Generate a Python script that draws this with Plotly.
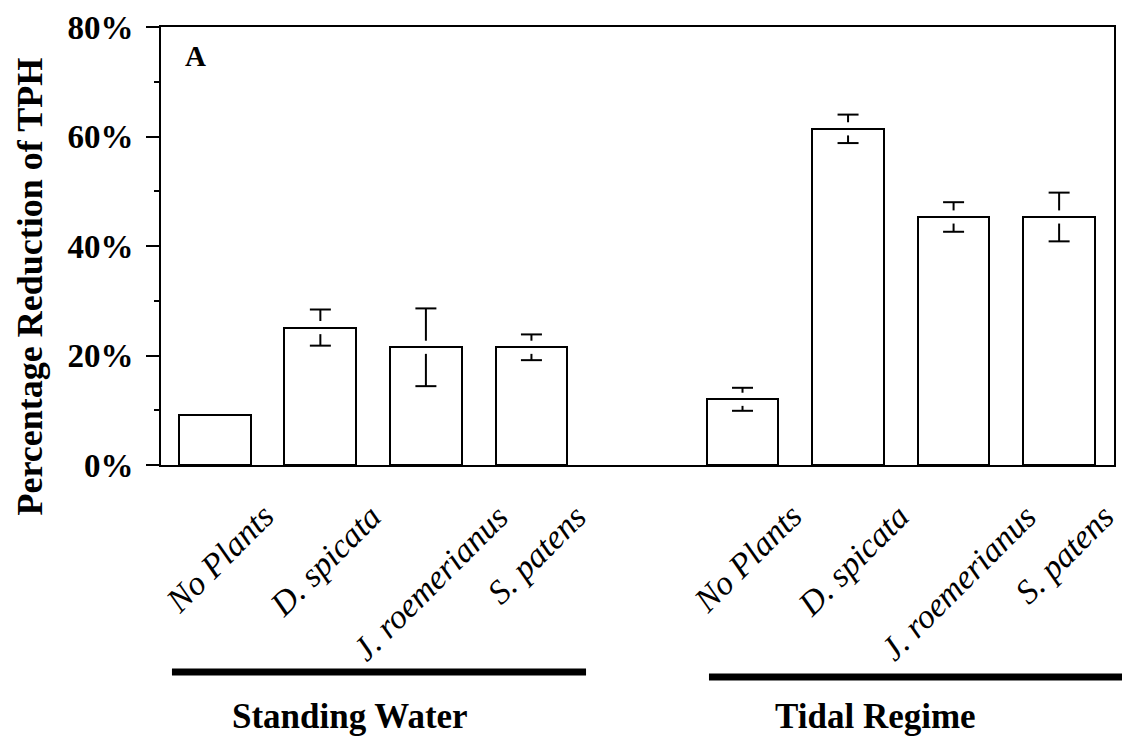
import plotly.graph_objects as go

# Treatments, shown in both water regimes
categories = ["No Plants", "D. spicata", "J. roemerianus", "S. patens"]
groups = ["Standing Water", "Tidal Regime"]

# Percentage reduction of TPH (mean and error)
standing_mean = [9.1, 25.1, 21.5, 21.5]
standing_err = [0.0, 3.3, 7.1, 2.35]
tidal_mean = [12.0, 61.4, 45.3, 45.3]
tidal_err = [2.1, 2.6, 2.7, 4.45]

y_ticks = [0, 20, 40, 60, 80]

SERIF = "'Times New Roman', 'Liberation Serif', Times, 'DejaVu Serif', serif"

# bar slots: one empty slot between the two regimes
xpos = [i for i in range(len(categories))] + [i + len(categories) + 1 for i in range(len(categories))]
means = standing_mean + tidal_mean
errs = standing_err + tidal_err
labels = categories + categories

fig = go.Figure()

fig.add_trace(go.Bar(
    x=xpos, y=means, width=0.68,
    marker=dict(color="white", line=dict(color="black", width=2)),
    showlegend=False, hoverinfo="skip",
))

# error whiskers, interrupted just around the top edge of each bar
gap = 1.2
wx, wy, cx, cy = [], [], [], []
for x, m, e in zip(xpos, means, errs):
    if e <= 0:
        continue
    wx += [x, x, None, x, x, None]
    wy += [m + gap, m + e, None, m - gap, m - e, None]
    cx += [x, x]
    cy += [m + e, m - e]

fig.add_trace(go.Scatter(
    x=wx, y=wy, mode="lines", line=dict(color="black", width=2),
    showlegend=False, hoverinfo="skip",
))
fig.add_trace(go.Scatter(
    x=cx, y=cy, mode="markers",
    marker=dict(symbol="line-ew", size=15, line=dict(color="black", width=2)),
    showlegend=False, hoverinfo="skip",
))

# rotated italic treatment names under each bar
for x, lab in zip(xpos, labels):
    fig.add_annotation(
        x=x, y=0, xref="x", yref="y", text=lab, showarrow=False,
        textangle=-45, xanchor="center", yanchor="top",
        xshift=5, yshift=-30,
        font=dict(family=SERIF, size=34, style="italic", color="black"),
    )

# group underlines and names
fig.add_shape(type="line", xref="paper", yref="paper",
              x0=0.0115, x1=0.446, y0=-0.4726, y1=-0.4726,
              line=dict(color="black", width=7))
fig.add_shape(type="line", xref="paper", yref="paper",
              x0=0.575, x1=1.01, y0=-0.484, y1=-0.484,
              line=dict(color="black", width=7))
for gx, g in zip([0.198, 0.7497], groups):
    fig.add_annotation(
        x=gx, y=-0.575, xref="paper", yref="paper", text=g, showarrow=False,
        xanchor="center", yanchor="middle",
        font=dict(family=SERIF, size=35, weight="bold", color="black"),
    )

# y axis title
fig.add_annotation(
    x=-0.137, y=0.4087, xref="paper", yref="paper",
    text="Percentage Reduction of TPH", showarrow=False, textangle=-90,
    xanchor="center", yanchor="middle",
    font=dict(family=SERIF, size=36, weight="bold", color="black"),
)

# panel letter
fig.add_annotation(
    x=0.036, y=0.934, xref="paper", yref="paper", text="A", showarrow=False,
    xanchor="center", yanchor="middle",
    font=dict(family=SERIF, size=29, weight="bold", color="black"),
)

fig.update_layout(
    width=1122, height=740,
    margin=dict(l=161, r=6, t=27, b=275),
    plot_bgcolor="white", paper_bgcolor="white",
    bargap=0,
    font=dict(family=SERIF, color="black"),
)
fig.update_xaxes(
    range=[-0.51, 8.52], showticklabels=False, ticks="",
    showgrid=False, zeroline=False,
    showline=True, mirror=True, linecolor="black", linewidth=2,
)
fig.update_yaxes(
    range=[0, 80], tickvals=y_ticks, ticktext=[f"{v}%" for v in y_ticks],
    ticks="outside", ticklen=13, tickwidth=2, tickcolor="black",
    ticklabelstandoff=6,
    minor=dict(dtick=10, ticks="outside", ticklen=5, tickwidth=2, tickcolor="black"),
    tickfont=dict(family=SERIF, size=33, weight="bold", color="black"),
    showgrid=False, zeroline=False,
    showline=True, mirror=True, linecolor="black", linewidth=2,
)

fig.write_html("out.html")
